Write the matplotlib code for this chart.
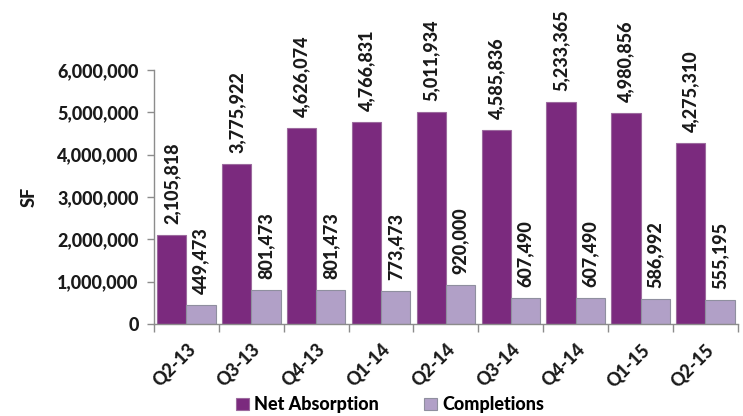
import matplotlib
matplotlib.use("Agg")
import matplotlib.pyplot as plt
import numpy as np
from matplotlib.ticker import FuncFormatter

categories = ["Q2-13", "Q3-13", "Q4-13", "Q1-14", "Q2-14", "Q3-14", "Q4-14", "Q1-15", "Q2-15"]
net_absorption = [2105818, 3775922, 4626074, 4766831, 5011934, 4585836, 5233365, 4980856, 4275310]
completions = [449473, 801473, 801473, 773473, 920000, 607490, 607490, 586992, 555195]

plt.rcParams['font.family'] = ['Lato', 'DejaVu Sans']
WT = 900
plt.rcParams['font.weight'] = WT

fig = plt.figure(figsize=(7.43, 4.16), dpi=100)
ax = fig.add_axes([0.2073, 0.2212, 0.7857, 0.6105])

x = np.arange(len(categories))
w = 0.45
c1 = "#7B2A7E"
c2 = "#B1A0C7"
b1 = ax.bar(x - w/2, net_absorption, w, color=c1, edgecolor="#9C6A9E", linewidth=0.8, label="Net Absorption")
b2 = ax.bar(x + w/2, completions, w, color=c2, edgecolor="#8F8F9F", linewidth=0.8, label="Completions")

fs = 13
tc = "#1a1a1a"
for xs, vals in ((x - w/2, net_absorption), (x + w/2, completions)):
    for xi, v in zip(xs, vals):
        ax.annotate(f"{v:,}", (xi, v), xytext=(0, 8), textcoords="offset points",
                    rotation=90, ha="center", va="bottom", fontsize=fs, fontweight=WT,
                    color=tc, annotation_clip=False)

ax.set_xlim(-0.5, len(categories) - 0.5)
ax.set_ylim(0, 6000000)
ax.set_yticks(np.arange(0, 6000001, 1000000))
ax.yaxis.set_major_formatter(FuncFormatter(lambda v, p: f"{int(v):,}"))
ax.tick_params(axis='y', labelsize=fs, length=5, color="#8c8c8c", width=1, pad=6)
for t in ax.get_yticklabels():
    t.set_fontweight(WT)
    t.set_color(tc)

ax.set_xticks(x)
ax.set_xticklabels(categories, rotation=45, ha="right", rotation_mode="anchor",
                   fontsize=fs, fontweight=WT, color=tc)
ax.tick_params(axis='x', which='major', length=0, pad=12)
ax.set_xticks(np.arange(-0.5, len(categories), 1.0), minor=True)
ax.tick_params(axis='x', which='minor', length=6, color="#8c8c8c", width=1)

for s in ["top", "right"]:
    ax.spines[s].set_visible(False)
for s in ["left", "bottom"]:
    ax.spines[s].set_color("#8c8c8c")
    ax.spines[s].set_linewidth(1)

ax.set_ylabel("SF", fontsize=fs, fontweight=WT, color=tc, labelpad=14)

fig.legend(handles=[b1, b2], labels=["Net Absorption", "Completions"], loc="center",
           bbox_to_anchor=(0.525, 0.027), ncol=2, frameon=False,
           handlelength=0.7, handleheight=0.7, handletextpad=0.3, columnspacing=2.5,
           prop={'weight': WT, 'size': fs})

fig.savefig("out.png", dpi=100)
